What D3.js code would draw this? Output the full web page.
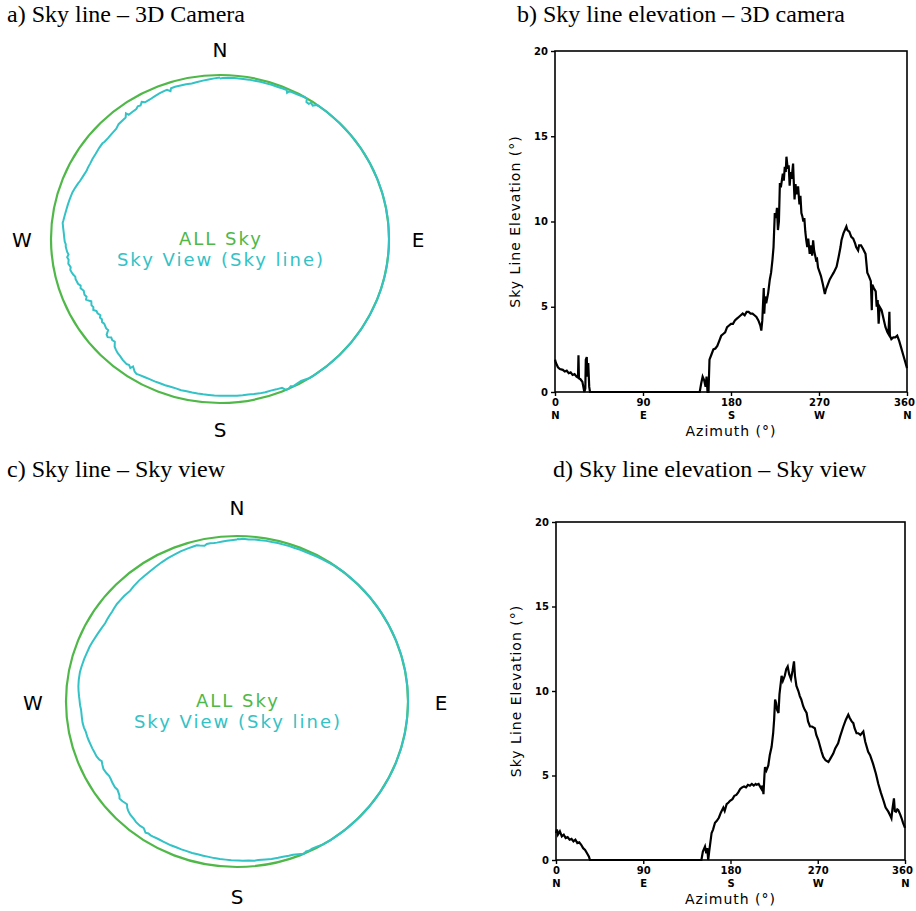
<!DOCTYPE html>
<html>
<head>
<meta charset="utf-8">
<script src="https://cdn.jsdelivr.net/npm/d3@7"></script>
<style>
  body { margin: 0; background: #fff; }
  svg { display: block; }
  .title { font-family: "Liberation Serif", "Times New Roman", serif; font-size: 24px; fill: #000; }
  .compass { font-family: "DejaVu Sans", sans-serif; font-size: 20px; fill: #000; }
  .legend { font-family: "DejaVu Sans", sans-serif; font-size: 18px; letter-spacing: 2px; }
  .tick text { font-family: "DejaVu Sans", sans-serif; font-size: 10px; font-weight: bold; fill: #000; }
  .axis-title { font-family: "DejaVu Sans", sans-serif; font-size: 14px; letter-spacing: 1px; fill: #000; }
</style>
</head>
<body>
<div id="chart"></div>
<script>
// axis ticks
var azTicks = [0, 90, 180, 270, 360];
var dirLabels = ["N", "E", "S", "W", "N"];
var elTicks = [0, 5, 10, 15, 20];

// sky line (3D camera): azimuth (deg), elevation (deg)
var azCam = [0, 1, 3, 5, 8, 10, 12, 14, 16, 18, 20, 22, 23.5, 24, 24.5, 26, 28, 29, 30, 31, 31.5, 32.5, 33, 34, 35, 35.8,
  148, 149.5, 151, 152.5, 154, 155, 156, 157, 158, 160, 162, 164, 166, 168, 170, 172, 174, 176, 178, 180, 182, 184, 186, 188,
  190, 192, 194, 196, 198, 200, 202, 204, 206, 208, 210, 211, 212, 213.5, 214, 215, 216, 218, 219.7, 221, 222.4, 223.5, 224.8,
  226, 227, 228, 229, 230, 231, 233, 234, 235, 236, 236.7, 238, 239, 240, 241, 242, 243.5, 244, 245, 246, 247, 248.6, 250, 251,
  252, 253, 254, 255, 256, 257, 258, 259, 260.5, 262, 263, 264, 265, 267, 268, 269, 270.8, 272, 274, 276, 277, 279, 281, 283,
  285, 288, 290, 292, 293, 295, 298, 299, 301, 303, 305, 307, 308, 310, 311, 313, 315, 317.6, 319.4, 321, 323, 324, 324.5, 326,
  328, 329, 330, 331, 332, 334, 336, 338, 340, 341, 342, 342.5, 344, 346, 348, 350, 352, 354, 356, 358, 360];
var elCam = [1.9, 1.7, 1.45, 1.35, 1.3, 1.2, 1.25, 1.1, 1.15, 1.0, 1.05, 0.9, 0.85, 2.15, 0.8, 0.75, 0.6, 0.3, 0, 0.2, 1.9, 2.05, 0.9, 1.7, 0.3, 0,
  0, 0.5, 0.9, 0.7, 0.3, 0.9, 0, 0, 1.9, 2.2, 2.5, 2.55, 2.7, 3.0, 3.3, 3.4, 3.5, 3.8, 3.9, 4.0, 4.0, 4.2, 4.3, 4.4,
  4.5, 4.6, 4.5, 4.7, 4.7, 4.6, 4.6, 4.5, 4.4, 4.2, 3.9, 3.6, 4.2, 6.1, 4.6, 5.6, 5.2, 5.8, 6.6, 7.0, 7.75, 8.5, 10.5,
  10.2, 10.8, 9.5, 10.0, 12.25, 12.0, 12.8, 12.4, 13.2, 12.9, 13.8, 13.1, 13.3, 12.1, 12.9, 12.5, 13.4, 12.6, 11.3, 12.2, 11.6, 12.06, 11.0, 11.5,
  10.5, 10.3, 10.0, 10.2, 9.4, 8.9, 8.5, 9.0, 8.1, 8.6, 8.0, 8.9, 8.3, 7.75, 7.8, 7.3, 7.0, 6.8, 6.3, 5.75, 6.0, 6.3, 6.6, 6.8,
  7.0, 7.35, 7.9, 8.5, 8.9, 9.3, 9.7, 9.5, 9.4, 9.1, 9.0, 8.7, 8.5, 8.3, 8.6, 8.6, 8.4, 8.1, 7.0, 6.8, 6.5, 4.8, 6.3, 6.1,
  5.9, 5.0, 5.4, 4.0, 5.0, 4.8, 4.3, 3.8, 3.5, 3.4, 4.7, 3.3, 3.1, 3.2, 3.2, 3.3, 3.0, 2.6, 2.2, 1.8, 1.4];

// sky line (sky view)
var azView = [0, 1, 2, 4, 6, 8, 10, 12, 14, 16, 18, 20, 22, 24, 26, 28, 30, 32, 34, 35,
  150, 151.5, 153.7, 155, 156, 157, 158, 160.5, 162, 164, 165.7, 168, 170, 172.6, 174, 176, 178, 179.5, 182, 184, 186, 188,
  190, 192, 194, 196, 198, 200, 202, 204, 206, 207, 209, 211, 212, 213, 214, 215, 215.6, 217, 219, 220.5, 222.4, 224, 225,
  226, 227, 228, 229.5, 230.5, 232.7, 234, 236, 237.5, 239, 240.5, 242.4, 244, 245.5, 246.5, 248, 250, 251.5, 253, 255, 256.5,
  258.5, 260, 262, 264, 267, 268.5, 270.6, 272, 274, 275.7, 278, 281, 283, 286, 288, 291, 293, 296.4, 299, 301.5, 303, 305,
  306.7, 308, 310, 311.8, 314, 317, 319, 322, 324, 327, 330, 332.5, 335, 337.6, 340, 342.8, 345, 346, 347, 348.6, 349.5, 350.7,
  352, 353, 355, 356.5, 358, 360];
var elView = [1.6, 1.8, 1.5, 1.7, 1.4, 1.5, 1.3, 1.35, 1.2, 1.25, 1.1, 1.2, 1.0, 1.05, 0.9, 0.7, 0.6, 0.4, 0.2, 0,
  0, 0.5, 0.8, 0.4, 0.7, 0, 0.5, 1.6, 1.8, 2.2, 2.3, 2.5, 2.8, 3.1, 2.9, 3.3, 3.4, 3.5, 3.6, 3.8, 3.85, 4.0,
  4.2, 4.3, 4.35, 4.3, 4.45, 4.4, 4.5, 4.4, 4.5, 4.45, 4.5, 4.3, 4.2, 4.4, 3.9, 5.0, 5.5, 5.3, 5.6, 6.2, 6.7, 7.5, 8.3,
  9.5, 9.3, 8.9, 8.7, 9.8, 10.9, 10.6, 10.9, 11.3, 11.45, 11.0, 10.7, 11.2, 11.75, 10.9, 10.3, 10.0, 9.7, 9.5, 9.1, 8.9,
  8.7, 8.2, 7.9, 7.9, 7.8, 7.4, 7.1, 6.8, 6.4, 6.1, 5.9, 5.8, 6.0, 6.3, 6.6, 6.9, 7.3, 7.9, 8.3, 8.6, 8.4, 8.2,
  8.1, 7.8, 7.5, 7.5, 7.4, 7.6, 7.0, 6.4, 6.2, 5.7, 5.1, 4.5, 4.0, 3.55, 3.1, 2.86, 2.6, 2.47, 3.0, 3.65, 2.9, 2.86,
  3.0, 2.96, 2.7, 2.47, 2.2, 1.9];

var GREEN = "#4fb848";
var CYAN = "#33c2c6";

var svg = d3.select("#chart").append("svg").attr("width", 916).attr("height", 911);

function zip(az, el) {
  return az.map(function(a, i) { return {az: a, el: el[i]}; });
}

// ---- polar sky plot ----
// drawn in zenith-degree units (horizon = 90) then scaled to the picture's ellipse
function skyPlot(o) {
  var px = d3.scaleLinear().domain([-90, 90]).range([o.cx - o.rx, o.cx + o.rx]);
  var py = d3.scaleLinear().domain([-90, 90]).range([o.cy + o.ry, o.cy - o.ry]);
  var rad = Math.PI / 180;
  var g = svg.append("g");
  var inner = g.append("g").attr("transform",
    "translate(" + px(0) + "," + py(0) + ") scale(" + ((px(90) - px(0)) / 90) + "," + ((py(0) - py(90)) / 90) + ")");

  inner.append("ellipse")
    .attr("cx", 0).attr("cy", 0).attr("rx", 90).attr("ry", 90)
    .attr("fill", "none").attr("stroke", GREEN).attr("stroke-width", 2.2)
    .attr("vector-effect", "non-scaling-stroke");

  // sky line: follow the horizon circle where the elevation stays at zero
  var p = d3.path();
  o.data.forEach(function(d, i) {
    var r = 90 - d.el, a = d.az * rad;
    var x = r * Math.sin(a), y = -r * Math.cos(a);
    if (i === 0) { p.moveTo(x, y); return; }
    var prev = o.data[i - 1];
    if (prev.el === 0 && d.el === 0) {
      p.arc(0, 0, 90, (prev.az - 90) * rad, (d.az - 90) * rad, false);
    } else {
      p.lineTo(x, y);
    }
  });
  inner.append("path")
    .attr("d", p.toString())
    .attr("fill", "none").attr("stroke", CYAN).attr("stroke-width", 2)
    .attr("vector-effect", "non-scaling-stroke");

  var letters = [["N", 0, 1], ["S", 0, -1], ["W", -1, 0], ["E", 1, 0]];
  letters.forEach(function(l) {
    var x = l[1] === 0 ? px(0) : (l[1] < 0 ? o.cx - o.lx : o.cx + o.lx);
    var y = l[2] === 0 ? o.cy + 8 : (l[2] > 0 ? o.ny : o.sy);
    g.append("text").attr("class", "compass")
      .attr("x", x).attr("y", y).attr("text-anchor", "middle").text(l[0]);
  });

  g.append("text").attr("class", "legend").attr("fill", GREEN)
    .attr("x", o.cx + 1).attr("y", o.ty).attr("text-anchor", "middle").text("ALL Sky");
  g.append("text").attr("class", "legend").attr("fill", CYAN)
    .attr("x", o.cx + 1).attr("y", o.ty + 21).attr("text-anchor", "middle").text("Sky View (Sky line)");
}

// ---- elevation profile ----
function profilePlot(o) {
  var x = d3.scaleLinear().domain([0, 360]).range([o.x0, o.x1]);
  var y = d3.scaleLinear().domain([0, 20]).range([o.y0, o.y1]);
  var g = svg.append("g");

  g.append("path")
    .datum(o.data)
    .attr("d", d3.line().x(function(d) { return x(d.az); }).y(function(d) { return y(d.el); }))
    .attr("fill", "none").attr("stroke", "#000").attr("stroke-width", 2.2)
    .attr("stroke-linejoin", "miter");

  g.append("rect")
    .attr("x", o.x0).attr("y", o.y1)
    .attr("width", o.x1 - o.x0).attr("height", o.y0 - o.y1)
    .attr("fill", "none").attr("stroke", "#000").attr("stroke-width", 1.6);

  var ya = g.append("g").attr("transform", "translate(" + o.x0 + ",0)")
    .call(d3.axisLeft(y).tickValues(elTicks).tickSize(4).tickPadding(3));
  var xa = g.append("g").attr("transform", "translate(0," + o.y0 + ")")
    .call(d3.axisBottom(x).tickValues(azTicks).tickSize(4).tickPadding(3));
  var xd = g.append("g").attr("transform", "translate(0," + (o.y0 + 17) + ")")
    .call(d3.axisBottom(x).tickValues(azTicks).tickSize(0).tickPadding(3)
      .tickFormat(function(d, i) { return dirLabels[i]; }));
  [ya, xa, xd].forEach(function(a) {
    a.select(".domain").remove();
    a.selectAll(".tick line").attr("stroke", "#000").attr("stroke-width", 1.4);
  });
  // keep the last number inside the page edge
  xa.selectAll(".tick text").filter(function(d) { return d === 360; }).attr("dx", -3);

  g.append("text").attr("class", "axis-title")
    .attr("transform", "translate(" + (o.x0 - 35) + "," + ((o.y0 + o.y1) / 2) + ") rotate(-90)")
    .attr("text-anchor", "middle").text("Sky Line Elevation (°)");
  g.append("text").attr("class", "axis-title")
    .attr("x", (o.x0 + o.x1) / 2).attr("y", o.y0 + 44)
    .attr("text-anchor", "middle").text("Azimuth (°)");
}

skyPlot({cx: 220, cy: 239, rx: 169, ry: 164, lx: 198, ny: 57, sy: 437, ty: 245, data: zip(azCam, elCam)});
skyPlot({cx: 237, cy: 701.5, rx: 171, ry: 165.5, lx: 204, ny: 515, sy: 904, ty: 707, data: zip(azView, elView)});
profilePlot({x0: 555, x1: 907, y0: 392, y1: 51, data: zip(azCam, elCam)});
profilePlot({x0: 556, x1: 905, y0: 860, y1: 522, data: zip(azView, elView)});

var titles = [
  ["a) Sky line – 3D Camera", 7, 22],
  ["b) Sky line elevation – 3D camera", 517, 22],
  ["c) Sky line – Sky view", 7, 477],
  ["d) Sky line elevation – Sky view", 553, 477]
];
svg.selectAll("text.title").data(titles).enter().append("text")
  .attr("class", "title")
  .attr("x", function(d) { return d[1]; })
  .attr("y", function(d) { return d[2]; })
  .text(function(d) { return d[0]; });
</script>
</body>
</html>
